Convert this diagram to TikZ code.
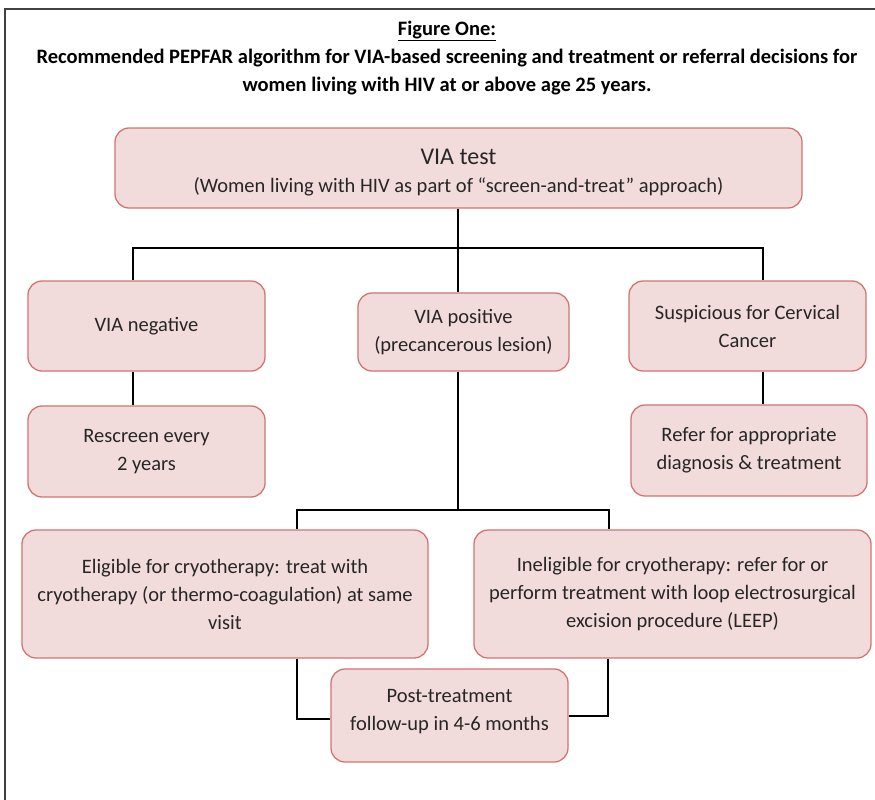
\documentclass[tikz,border=0pt]{standalone}
\usepackage{fontspec}
\setmainfont{Carlito}
\definecolor{boxfill}{HTML}{F2DCDB}
\definecolor{boxborder}{HTML}{D07572}
\definecolor{textcol}{HTML}{262626}
\newcommand{\twolines}[3]{\raisebox{#1}[\height][\depth]{\begin{tabular}{@{}c@{}}#2\\#3\end{tabular}}}
\begin{document}
\begin{tikzpicture}[x=1pt,y=-1pt,
  box/.style={draw=boxborder, fill=boxfill, line width=1.3pt, rounded corners=14pt,
    align=center, text=textcol, font=\fontsize{20.5}{28}\selectfont, inner sep=0pt},
  conn/.style={line width=2.8pt, black},
  frame/.style={line width=1.6pt, black!75},
  titlefont/.style={font=\fontsize{20.5}{28}\selectfont\bfseries, align=center}]
\useasboundingbox (0,0) rectangle (875,800);
\draw[frame] (5,800) -- (5,9) -- (875,9);
\node[titlefont] (title) at (447,58) {\underline{Figure One:}\\Recommended PEPFAR algorithm for VIA-based screening and treatment or referral decisions for\\women living with HIV at or above age 25 years.};

\node[box, minimum width=687pt, minimum height=80pt] (via) at (458.5,168)
  {\twolines{-5pt}{\fontsize{24}{30}\selectfont VIA test}{(Women living with HIV as part of “screen-and-treat” approach)}};
\node[box, minimum width=237pt, minimum height=90pt] (neg) at (146.5,326) {VIA negative};
\node[box, minimum width=211pt, minimum height=78pt] (pos) at (463.5,332) {VIA positive\\(precancerous lesion)};
\node[box, minimum width=237pt, minimum height=90pt] (susp) at (747.5,326) {Suspicious for Cervical\\Cancer};
\node[box, minimum width=237pt, minimum height=91pt] (resc) at (146.5,451.5) {Rescreen every\\2 years};
\node[box, minimum width=236pt, minimum height=91pt] (refer) at (749,450.5) {Refer for appropriate\\diagnosis \& treatment};
\node[box, minimum width=406pt, minimum height=128pt] (elig) at (225,594)
  {Eligible for cryotherapy: treat with\\cryotherapy (or thermo-coagulation) at same\\visit};
\node[box, minimum width=397pt, minimum height=128pt] (inel) at (672.5,594)
  {Ineligible for cryotherapy: refer for or\\perform treatment with loop electrosurgical\\excision procedure (LEEP)};
\node[box, minimum width=237pt, minimum height=93pt] (post) at (449.5,715.5)
  {\twolines{5pt}{Post-treatment}{follow-up in 4-6 months}};

\coordinate (j1) at (458,248);
\coordinate (jl) at (133,248);
\coordinate (jr) at (763,248);
\coordinate (j2) at (458,510);
\coordinate (jl2) at (297,510);
\coordinate (jr2) at (609,510);
\coordinate (p1) at (297,719);
\coordinate (p2) at (608,716);

\draw[conn] (via.south -| j1) -- (j1) -- (pos.north -| j1);
\draw[conn] (neg.north -| jl) -- (jl) -- (jr) -- (susp.north -| jr);
\draw[conn] (neg.south -| jl) -- (resc.north -| jl);
\draw[conn] (susp.south -| jr) -- (refer.north -| jr);
\draw[conn] (pos.south -| j2) -- (j2);
\draw[conn] (elig.north -| jl2) -- (jl2) -- (jr2) -- (inel.north -| jr2);
\draw[conn] (elig.south -| p1) -- (p1) -- (post.west |- p1);
\draw[conn] (inel.south -| p2) -- (p2) -- (post.east |- p2);
\end{tikzpicture}
\end{document}
